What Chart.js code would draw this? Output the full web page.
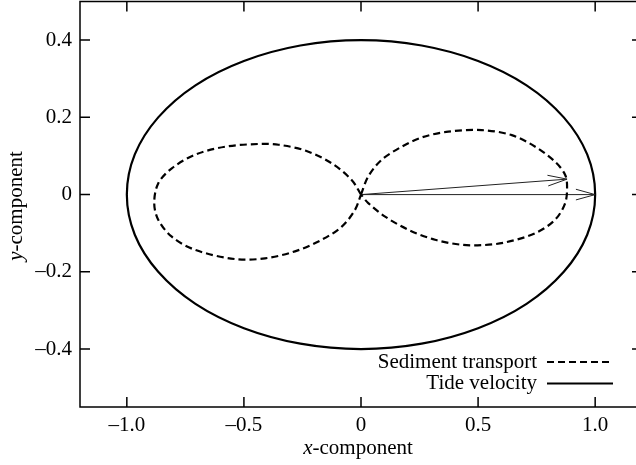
<!DOCTYPE html>
<html>
<head>
<meta charset="utf-8">
<title>Tide velocity and sediment transport</title>
<script src="https://cdn.jsdelivr.net/npm/chart.js@4.4.1/dist/chart.umd.min.js"></script>
<style>
  html, body { margin: 0; padding: 0; background: #fff; overflow: hidden; }
  /* the frame's right edge runs just past the page edge */
  #wrap { position: relative; width: 644px; height: 465px; }
</style>
</head>
<body>
<div id="wrap"><canvas id="hodograph"></canvas></div>
<script>
// tidal velocity ellipse (x, y components); one extra point past the top on each end
// gives the seam proper neighbours, the two end segments are left undrawn
const tideX = [0.259, 0, -0.259, -0.5, -0.707, -0.866, -0.966, -1, -0.966, -0.866, -0.707, -0.5, -0.259,
               0, 0.259, 0.5, 0.707, 0.866, 0.966, 1, 0.966, 0.866, 0.707, 0.5, 0.259, 0, -0.259];
const tideY = [0.386, 0.4, 0.386, 0.346, 0.283, 0.2, 0.104, 0, -0.104, -0.2, -0.283, -0.346, -0.386,
               -0.4, -0.386, -0.346, -0.283, -0.2, -0.104, 0, 0.104, 0.2, 0.283, 0.346, 0.386, 0.4, 0.386];

// sediment transport, flood lobe
const floodX = [0, 0.031, 0.088, 0.174, 0.259, 0.373, 0.516, 0.644, 0.744, 0.829, 0.872, 0.880,
                0.872, 0.829, 0.744, 0.615, 0.516, 0.430, 0.316, 0.202, 0.103, 0.031, 0];
const floodY = [0, 0.047, 0.090, 0.124, 0.148, 0.163, 0.167, 0.154, 0.124, 0.085, 0.051, 0.021,
                -0.022, -0.065, -0.100, -0.124, -0.131, -0.130, -0.117, -0.091, -0.057, -0.022, 0];

// sediment transport, ebb lobe
const ebbX = [0, -0.040, -0.125, -0.238, -0.352, -0.439, -0.581, -0.709, -0.808, -0.866, -0.883,
              -0.866, -0.808, -0.709, -0.538, -0.410, -0.282, -0.168, -0.082, -0.026, 0];
const ebbY = [0, 0.038, 0.081, 0.114, 0.129, 0.131, 0.124, 0.103, 0.068, 0.029, -0.022,
              -0.065, -0.109, -0.143, -0.167, -0.165, -0.147, -0.117, -0.083, -0.040, 0];

// peak vectors drawn from the origin
const arrowTipX = [1.0, 0.88];
const arrowTipY = [0, 0.04];

const xTicks = [-1, -0.5, 0, 0.5, 1];
const xTickLabels = ['\u20131.0', '\u20130.5', '0', '0.5', '1.0'];
const yTicks = [-0.4, -0.2, 0, 0.2, 0.4];
const yTickLabels = ['\u20130.4', '\u20130.2', '0', '0.2', '0.4'];

const SERIF = "'Liberation Serif', 'Times New Roman', serif";
const FONT_PX = 21;
const TICK = 10;

const toPts = (xs, ys) => xs.map((x, i) => ({x: x, y: ys[i]}));

Chart.defaults.font.family = SERIF;
Chart.defaults.font.size = FONT_PX;
Chart.defaults.color = '#000';

const datasets = [
    {
        label: 'Sediment transport', inKey: true,
        data: toPts(floodX, floodY),
        borderColor: '#000', borderWidth: 2.2, borderDash: [7, 4]
    },
    {
        label: 'Sediment transport',
        data: toPts(ebbX, ebbY),
        borderColor: '#000', borderWidth: 2.2, borderDash: [7, 4]
    },
    {
        label: 'Tide velocity', inKey: true,
        data: toPts(tideX, tideY),
        borderColor: '#000', borderWidth: 2.2,
        segment: {
            borderColor: c => (c.p0DataIndex === 0 || c.p1DataIndex === tideX.length - 1)
                ? 'rgba(0,0,0,0)' : undefined
        }
    }
];
arrowTipX.forEach((x, i) => {
    datasets.push({
        label: 'arrow', arrow: true,
        data: [{x: 0, y: 0}, {x: x, y: arrowTipY[i]}],
        borderColor: '#222', borderWidth: 1, tension: 0
    });
});

/* ================================
   FRAME + INWARD TICKS
================================ */

const framePlugin = {
    id: 'frame',
    afterDatasetsDraw(chart) {
        const {ctx, chartArea: a, scales} = chart;
        ctx.save();
        ctx.strokeStyle = '#000';
        ctx.lineWidth = 1.5;
        ctx.strokeRect(a.left, a.top, a.right - a.left, a.bottom - a.top);
        ctx.beginPath();
        xTicks.forEach(v => {
            const px = scales.x.getPixelForValue(v);
            ctx.moveTo(px, a.bottom); ctx.lineTo(px, a.bottom - TICK);
            ctx.moveTo(px, a.top); ctx.lineTo(px, a.top + TICK);
        });
        yTicks.forEach(v => {
            const py = scales.y.getPixelForValue(v);
            ctx.moveTo(a.left, py); ctx.lineTo(a.left + TICK, py);
            ctx.moveTo(a.right, py); ctx.lineTo(a.right - TICK, py);
        });
        ctx.stroke();
        ctx.restore();
    }
};

/* ================================
   ARROW HEADS
================================ */

const arrowPlugin = {
    id: 'arrowHeads',
    afterDatasetsDraw(chart) {
        const ctx = chart.ctx;
        chart.data.datasets.forEach((ds, i) => {
            if (!ds.arrow) return;
            const pts = chart.getDatasetMeta(i).data;
            const base = pts[0], tip = pts[pts.length - 1];
            const ang = Math.atan2(tip.y - base.y, tip.x - base.x);
            const len = 20, spread = 0.27;
            ctx.save();
            ctx.strokeStyle = ds.borderColor;
            ctx.lineWidth = 1;
            ctx.beginPath();
            ctx.moveTo(tip.x - len * Math.cos(ang - spread), tip.y - len * Math.sin(ang - spread));
            ctx.lineTo(tip.x, tip.y);
            ctx.lineTo(tip.x - len * Math.cos(ang + spread), tip.y - len * Math.sin(ang + spread));
            ctx.stroke();
            ctx.restore();
        });
    }
};

/* ================================
   KEY (bottom right, text before sample)
================================ */

const keyPlugin = {
    id: 'key',
    afterDraw(chart) {
        const {ctx, chartArea: a} = chart;
        const items = chart.data.datasets.filter(d => d.inKey);
        const textRight = 537, lineL = 547, lineR = 613;
        ctx.save();
        ctx.font = FONT_PX + 'px ' + SERIF;
        ctx.textAlign = 'right';
        ctx.textBaseline = 'middle';
        items.forEach((ds, i) => {
            const yy = a.bottom - 45 + i * 21.5;
            ctx.fillStyle = '#000';
            ctx.fillText(ds.label, textRight, yy);
            ctx.strokeStyle = ds.borderColor;
            ctx.lineWidth = ds.borderWidth;
            ctx.setLineDash(ds.borderDash || []);
            ctx.beginPath();
            ctx.moveTo(lineL, yy); ctx.lineTo(lineR, yy);
            ctx.stroke();
        });
        ctx.restore();
    }
};

/* ================================
   AXIS TITLES (italic variable name)
================================ */

function mixedTitle(ctx, sym, rest, cx, cy) {
    ctx.font = 'italic ' + FONT_PX + 'px ' + SERIF;
    const w1 = ctx.measureText(sym).width;
    ctx.font = FONT_PX + 'px ' + SERIF;
    const w2 = ctx.measureText(rest).width;
    const x0 = cx - (w1 + w2) / 2;
    ctx.textAlign = 'left';
    ctx.textBaseline = 'middle';
    ctx.font = 'italic ' + FONT_PX + 'px ' + SERIF;
    ctx.fillText(sym, x0, cy);
    ctx.font = FONT_PX + 'px ' + SERIF;
    ctx.fillText(rest, x0 + w1, cy);
}

const titlePlugin = {
    id: 'axisTitles',
    afterDraw(chart) {
        const ctx = chart.ctx;
        ctx.save();
        ctx.fillStyle = '#000';
        mixedTitle(ctx, 'x', '-component', 358, 448);
        ctx.translate(16, 206);
        ctx.rotate(-Math.PI / 2);
        mixedTitle(ctx, 'y', '-component', 0, 0);
        ctx.restore();
    }
};

// scale edges sit exactly on the frame, no label overhang padding
const noOverhang = s => {
    s.paddingTop = 0; s.paddingBottom = 0;
    s.paddingLeft = 0; s.paddingRight = 0;
};

new Chart(document.getElementById('hodograph'), {
    type: 'scatter',
    data: {datasets: datasets},
    options: {
        responsive: true,
        maintainAspectRatio: false,
        animation: false,
        showLine: true,
        elements: {
            point: {radius: 0, hoverRadius: 0},
            line: {tension: 0.33, fill: false}
        },
        layout: {padding: {left: 0, right: 2, top: 1.5, bottom: 0}},
        plugins: {legend: {display: false}, tooltip: {enabled: false}},
        scales: {
            x: {
                type: 'linear', min: -1.2, max: 1.2,
                grid: {display: false, drawTicks: false}, border: {display: false},
                afterBuildTicks: s => { s.ticks = xTicks.map(v => ({value: v})); },
                afterFit: s => { s.height = 58; noOverhang(s); },
                ticks: {padding: 6, maxRotation: 0, autoSkip: false,
                        callback: (v, i) => xTickLabels[i]}
            },
            y: {
                type: 'linear', min: -0.55, max: 0.5,
                grid: {display: false, drawTicks: false}, border: {display: false},
                afterBuildTicks: s => { s.ticks = yTicks.map(v => ({value: v})); },
                afterFit: s => { s.width = 80; noOverhang(s); },
                ticks: {padding: 8, autoSkip: false,
                        callback: (v, i) => yTickLabels[i]}
            }
        }
    },
    plugins: [framePlugin, arrowPlugin, keyPlugin, titlePlugin]
});
</script>
</body>
</html>
